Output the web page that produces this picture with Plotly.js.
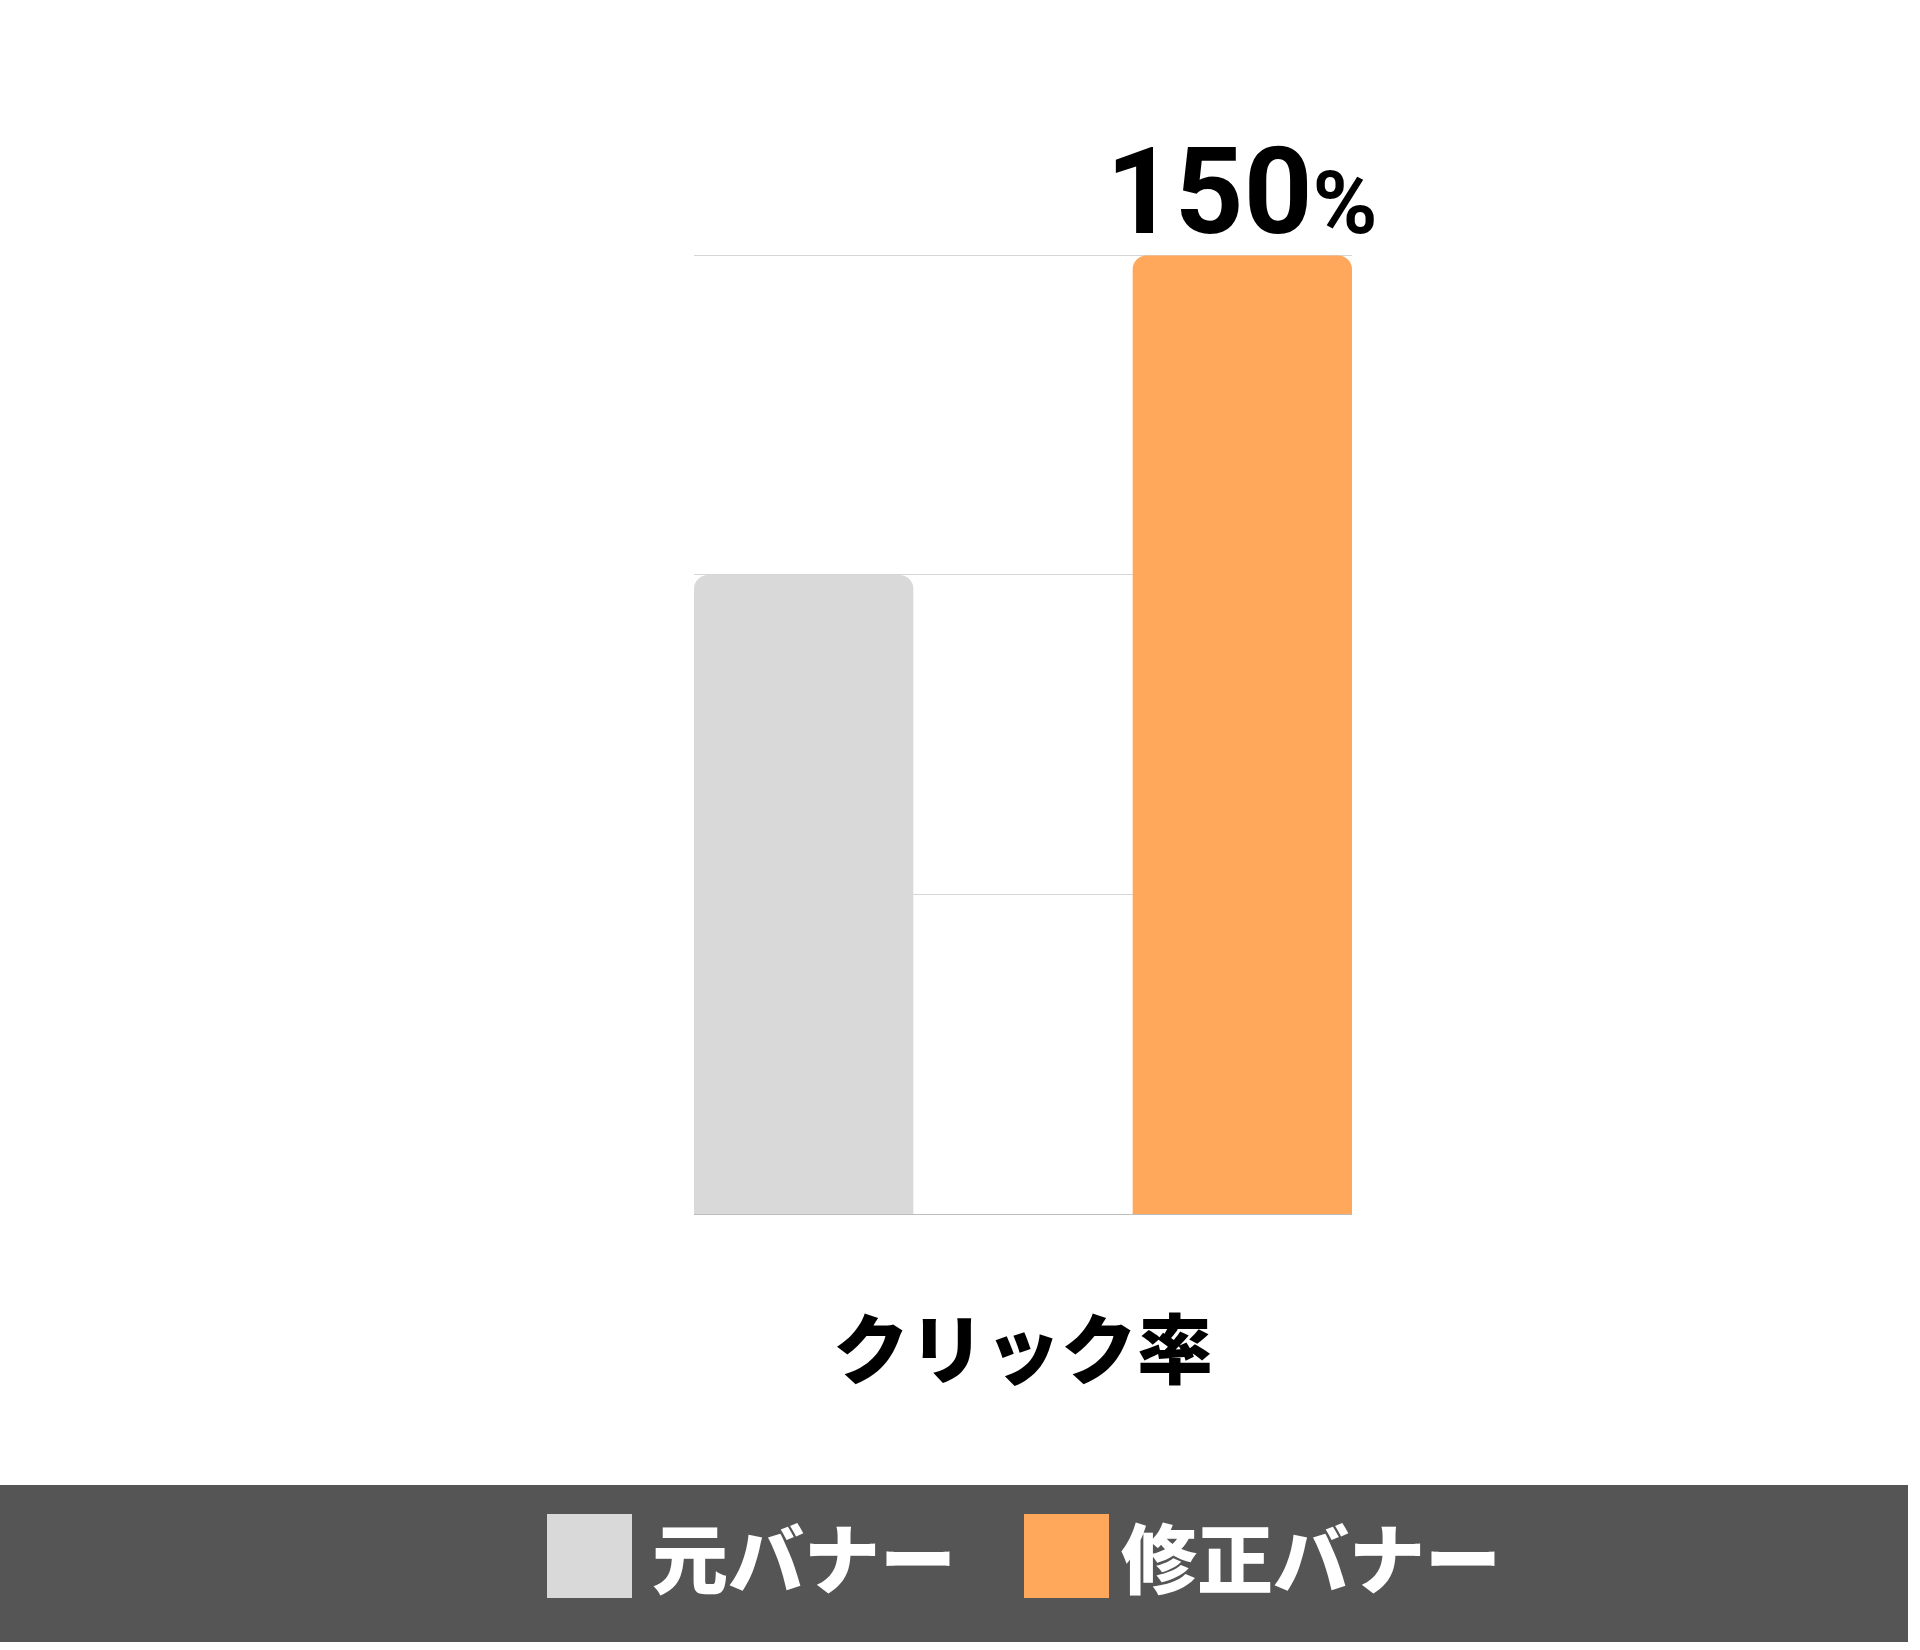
<!DOCTYPE html>
<html>
<head>
<meta charset="utf-8">
<script src="https://cdn.plot.ly/plotly-3.0.1.min.js"></script>
<style>
  body { margin: 0; background: #fff; }
  #chart { width: 1920px; height: 1650px; }
</style>
</head>
<body>
<div id="chart"></div>
<script>
// data
var categories = ['クリック率']
var series_names = ['元バナー', '修正バナー']
var series_values = [100, 150]
var series_colors = ['#d9d9d9', '#ffa75a']
var label_text = '150<span style="font-size:88px">%</span>'
var y_ticks = [0, 50, 100, 150]

var font_family = '"Noto Sans CJK JP", "Noto Sans", sans-serif'
var number_font = 'Roboto, "Noto Sans", sans-serif'

// plot area in pixels (top a bit above the 150 line so its gridline shows)
var plot_left = 694, plot_right = 1352, plot_top = 249, plot_bottom = 1214
var W = 1920, H = 1650

function px(x) { return (x - plot_left) / (plot_right - plot_left) }
function py(y) { return (plot_bottom - y) / (plot_bottom - plot_top) }

var data = series_names.map(function(name, i) {
  return {
    type: 'bar',
    name: name,
    x: categories,
    y: [series_values[i]],
    marker: {color: series_colors[i], line: {width: 0}},
    hoverinfo: 'none'
  }
})

// legend band built by hand so the swatches can be big
var legend_x = [547, 1024]
var legend_text_x = [650, 1119]
var shapes = [{
  type: 'rect', xref: 'paper', yref: 'paper', layer: 'below',
  x0: px(0), x1: px(1908), y0: py(1642), y1: py(1485),
  fillcolor: '#555555', line: {width: 0}
}]
var annotations = [{
  // value label over the second bar (group slot at +0.25 on the category axis)
  xref: 'x', yref: 'y', showarrow: false,
  x: 0.25, y: series_values[1],
  xanchor: 'center', yanchor: 'bottom', yshift: -9,
  text: label_text,
  font: {family: number_font, size: 120, color: '#000', weight: 'bold'}
}]
series_names.forEach(function(name, i) {
  shapes.push({
    type: 'rect', xref: 'paper', yref: 'paper',
    x0: px(legend_x[i]), x1: px(legend_x[i] + 85),
    y0: py(1598), y1: py(1514),
    fillcolor: series_colors[i], line: {width: 0}
  })
  annotations.push({
    xref: 'paper', yref: 'paper', showarrow: false,
    x: px(legend_text_x[i]), y: py(1555),
    xanchor: 'left', yanchor: 'middle',
    text: name,
    font: {family: font_family, size: 76, color: '#ffffff', weight: 900}
  })
})

var layout = {
  width: W, height: H,
  margin: {l: plot_left, r: W - plot_right, t: plot_top, b: H - plot_bottom, pad: 0},
  paper_bgcolor: '#ffffff',
  plot_bgcolor: '#ffffff',
  showlegend: false,
  barmode: 'group',
  bargap: 0,
  bargroupgap: 0.5,
  barcornerradius: 14,
  xaxis: {
    type: 'category',
    range: [-0.375, 0.375],
    showgrid: false,
    showline: true,
    linecolor: '#bdbdbd',
    linewidth: 1,
    ticks: '',
    ticklabelstandoff: 72,
    tickfont: {family: font_family, size: 76, color: '#000', weight: 900},
    fixedrange: true
  },
  yaxis: {
    range: [0, 151],
    tickvals: y_ticks,
    showticklabels: false,
    showgrid: true,
    gridcolor: '#d6d6d6',
    gridwidth: 1,
    zeroline: false,
    fixedrange: true
  },
  shapes: shapes,
  annotations: annotations
}

Plotly.newPlot('chart', data, layout, {displayModeBar: false, staticPlot: true})
</script>
</body>
</html>
